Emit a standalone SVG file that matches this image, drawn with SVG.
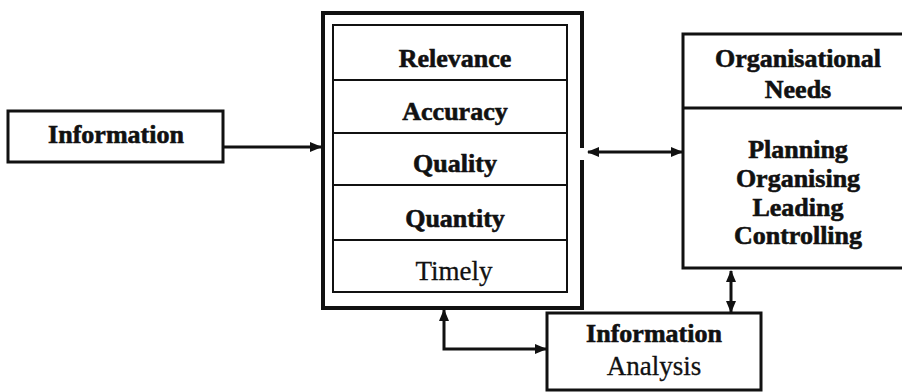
<svg xmlns="http://www.w3.org/2000/svg" width="902" height="392" viewBox="0 0 902 392">
  <style>
    .box { fill: #fff; stroke: #111; stroke-width: 3; }
    .thick { fill: none; stroke: #111; stroke-width: 4; }
    .rule { fill: none; stroke: #111; stroke-width: 2; }
    .wire { fill: none; stroke: #111; stroke-width: 3; }
    .b { font-family: "Liberation Serif", "DejaVu Serif", serif; font-weight: bold; font-size: 26px; fill: #111; stroke: #111; stroke-width: 0.6; text-anchor: middle; }
    .r { font-family: "Liberation Serif", "DejaVu Serif", serif; font-size: 27px; fill: #111; stroke: #111; stroke-width: 0.3; text-anchor: middle; }
  </style>
  <defs>
    <marker id="head" viewBox="0 0 12 10" refX="11" refY="5" markerWidth="12" markerHeight="10" markerUnits="userSpaceOnUse" orient="auto-start-reverse">
      <path d="M0,0 L12,5 L0,10 Z" fill="#111"/>
    </marker>
  </defs>
  <rect width="902" height="392" fill="#fff"/>

  <!-- source node -->
  <g id="information">
    <rect class="box" x="8" y="111" width="215" height="51"/>
    <text class="b" x="116" y="143">Information</text>
  </g>

  <!-- attribute stack: outer frame with a small break on the right side -->
  <g id="attributes">
    <path class="thick" d="M582,148 V13 H323 V308 H582 V160"/>
    <rect class="rule" x="333" y="25" width="234" height="267"/>
    <line class="rule" x1="333" y1="80" x2="567" y2="80"/>
    <line class="rule" x1="333" y1="133" x2="567" y2="133"/>
    <line class="rule" x1="333" y1="185" x2="567" y2="185"/>
    <line class="rule" x1="333" y1="240" x2="567" y2="240"/>
    <text class="b" x="455" y="67">Relevance</text>
    <text class="b" x="455" y="120">Accuracy</text>
    <text class="b" x="455" y="172">Quality</text>
    <text class="b" x="455" y="227">Quantity</text>
    <text class="r" x="454" y="280">Timely</text>
  </g>

  <!-- organisational needs (runs past the right edge) -->
  <g id="needs">
    <rect class="box" x="683" y="34" width="230" height="234"/>
    <line class="box" x1="683" y1="108" x2="905" y2="108"/>
    <text class="b" x="798" y="67">Organisational</text>
    <text class="b" x="798" y="98">Needs</text>
    <text class="b" x="798" y="158">Planning</text>
    <text class="b" x="798" y="187">Organising</text>
    <text class="b" x="798" y="216">Leading</text>
    <text class="b" x="798" y="244">Controlling</text>
  </g>

  <!-- analysis -->
  <g id="analysis">
    <rect class="box" x="547" y="313" width="214" height="77"/>
    <text class="b" x="654" y="342">Information</text>
    <text class="r" x="654" y="375">Analysis</text>
  </g>

  <g id="connectors">
    <line class="wire" x1="223" y1="147" x2="321" y2="147" marker-end="url(#head)"/>
    <line class="wire" x1="588" y1="152" x2="682" y2="152" marker-start="url(#head)" marker-end="url(#head)"/>
    <line class="wire" x1="731" y1="271" x2="731" y2="312" marker-start="url(#head)" marker-end="url(#head)"/>
    <path class="wire" d="M444,310 V349 H546" marker-start="url(#head)" marker-end="url(#head)"/>
  </g>
</svg>
